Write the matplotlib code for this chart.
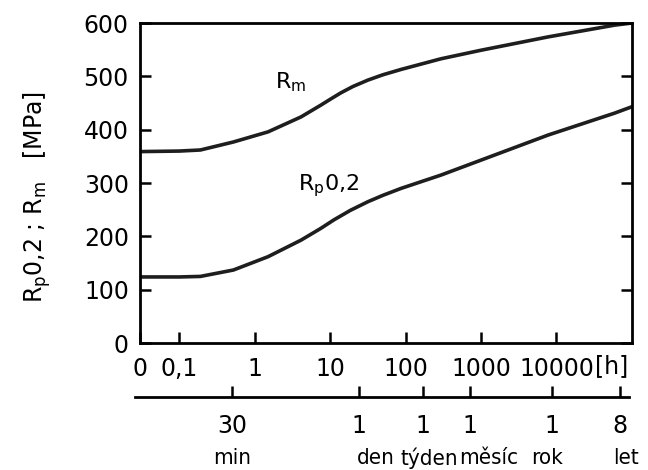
import matplotlib.pyplot as plt
import numpy as np

# cas [h] a pevnost [MPa]
cas = [0.03, 0.1, 0.19, 0.52, 1.5, 4.1, 7.5, 10, 13.8, 20, 31.6, 50, 87, 295, 1000, 7760, 58900, 100000]
rm = [359, 360, 362, 377, 396, 424, 446, 457, 469, 481, 493, 503, 513, 533, 549, 574, 596, 600]

cas_rp = [0.03, 0.1, 0.19, 0.52, 1.5, 4.1, 7.5, 11.2, 18.6, 31.6, 50, 87, 295, 1000, 7760, 58900, 100000]
rp = [124, 124, 125, 137, 162, 193, 215, 231, 249, 265, 277, 290, 315, 343, 390, 431, 443]

h_ticks = [0.03, 0.1, 1, 10, 100, 1000, 10000]
h_labels = ['0', '0,1', '1', '10', '100', '1000', '10000']

t_ticks = [0.5, 24, 168, 720, 8760, 70080]
t_nums = ['30', '1', '1', '1', '1', '8']
t_words = ['min', 'den', 'týden', 'měsíc', 'rok', 'let']
word_x = [0.5, 40, 205, 1250, 7500, 85000]

y_ticks = [0, 100, 200, 300, 400, 500, 600]

fs = 17
fig = plt.figure(figsize=(6.48, 4.70), dpi=100)
ax = fig.add_axes([0.216, 0.270, 0.759, 0.681])

ax.plot(cas, rm, color='#1e1e1e', lw=2.6)
ax.plot(cas_rp, rp, color='#1e1e1e', lw=2.6)

ax.set_xscale('log')
ax.set_xlim(0.03, 100000)
ax.set_ylim(0, 600)
ax.minorticks_off()

ax.set_xticks(h_ticks)
ax.set_xticklabels(h_labels, fontsize=fs)
ax.set_yticks(y_ticks)
ax.set_yticklabels([str(v) for v in y_ticks], fontsize=fs)
ax.tick_params(direction='in', length=8, width=1.8, top=True, right=True, pad=8)
ax.tick_params(axis='x', pad=10)
for sp in ax.spines.values():
    sp.set_linewidth(2)

ax.text(10**4.73, -44, '[h]', fontsize=fs, ha='center', va='center', clip_on=False)

ax.text(3.0, 490, 'R$_\\mathrm{m}$', fontsize=16, ha='center', va='center')
ax.text(9.6, 296, 'R$_\\mathrm{p}$0,2', fontsize=16, ha='center', va='center')

ax.set_ylabel('R$_\\mathrm{p}$0,2 ; R$_\\mathrm{m}$   [MPa]', fontsize=fs)
ax.yaxis.set_label_coords(-0.177, 0.456)

# druha casova osa pod grafem
ax2 = ax.twiny()
ax2.set_xscale('log')
ax2.set_xlim(ax.get_xlim())
ax2.minorticks_off()
for k in ['top', 'left', 'right']:
    ax2.spines[k].set_visible(False)
ax2.spines['bottom'].set_visible(True)
ax2.spines['bottom'].set_position(('outward', 39))
ax2.spines['bottom'].set_linewidth(2)
ax2.spines['bottom'].set_bounds(0.026, 91000)
ax2.xaxis.set_ticks_position('bottom')
ax2.xaxis.set_label_position('bottom')
ax2.set_xticks(t_ticks)
ax2.set_xticklabels(t_nums, fontsize=fs)
ax2.tick_params(axis='x', direction='in', length=8, width=1.8, pad=12)

for wx, w in zip(word_x, t_words):
    ax.text(wx, -215, w, fontsize=16, ha='center', va='center', clip_on=False,
            family=['Liberation Sans Narrow', 'DejaVu Sans'], fontstretch='condensed')

plt.savefig('out.png', dpi=100)
